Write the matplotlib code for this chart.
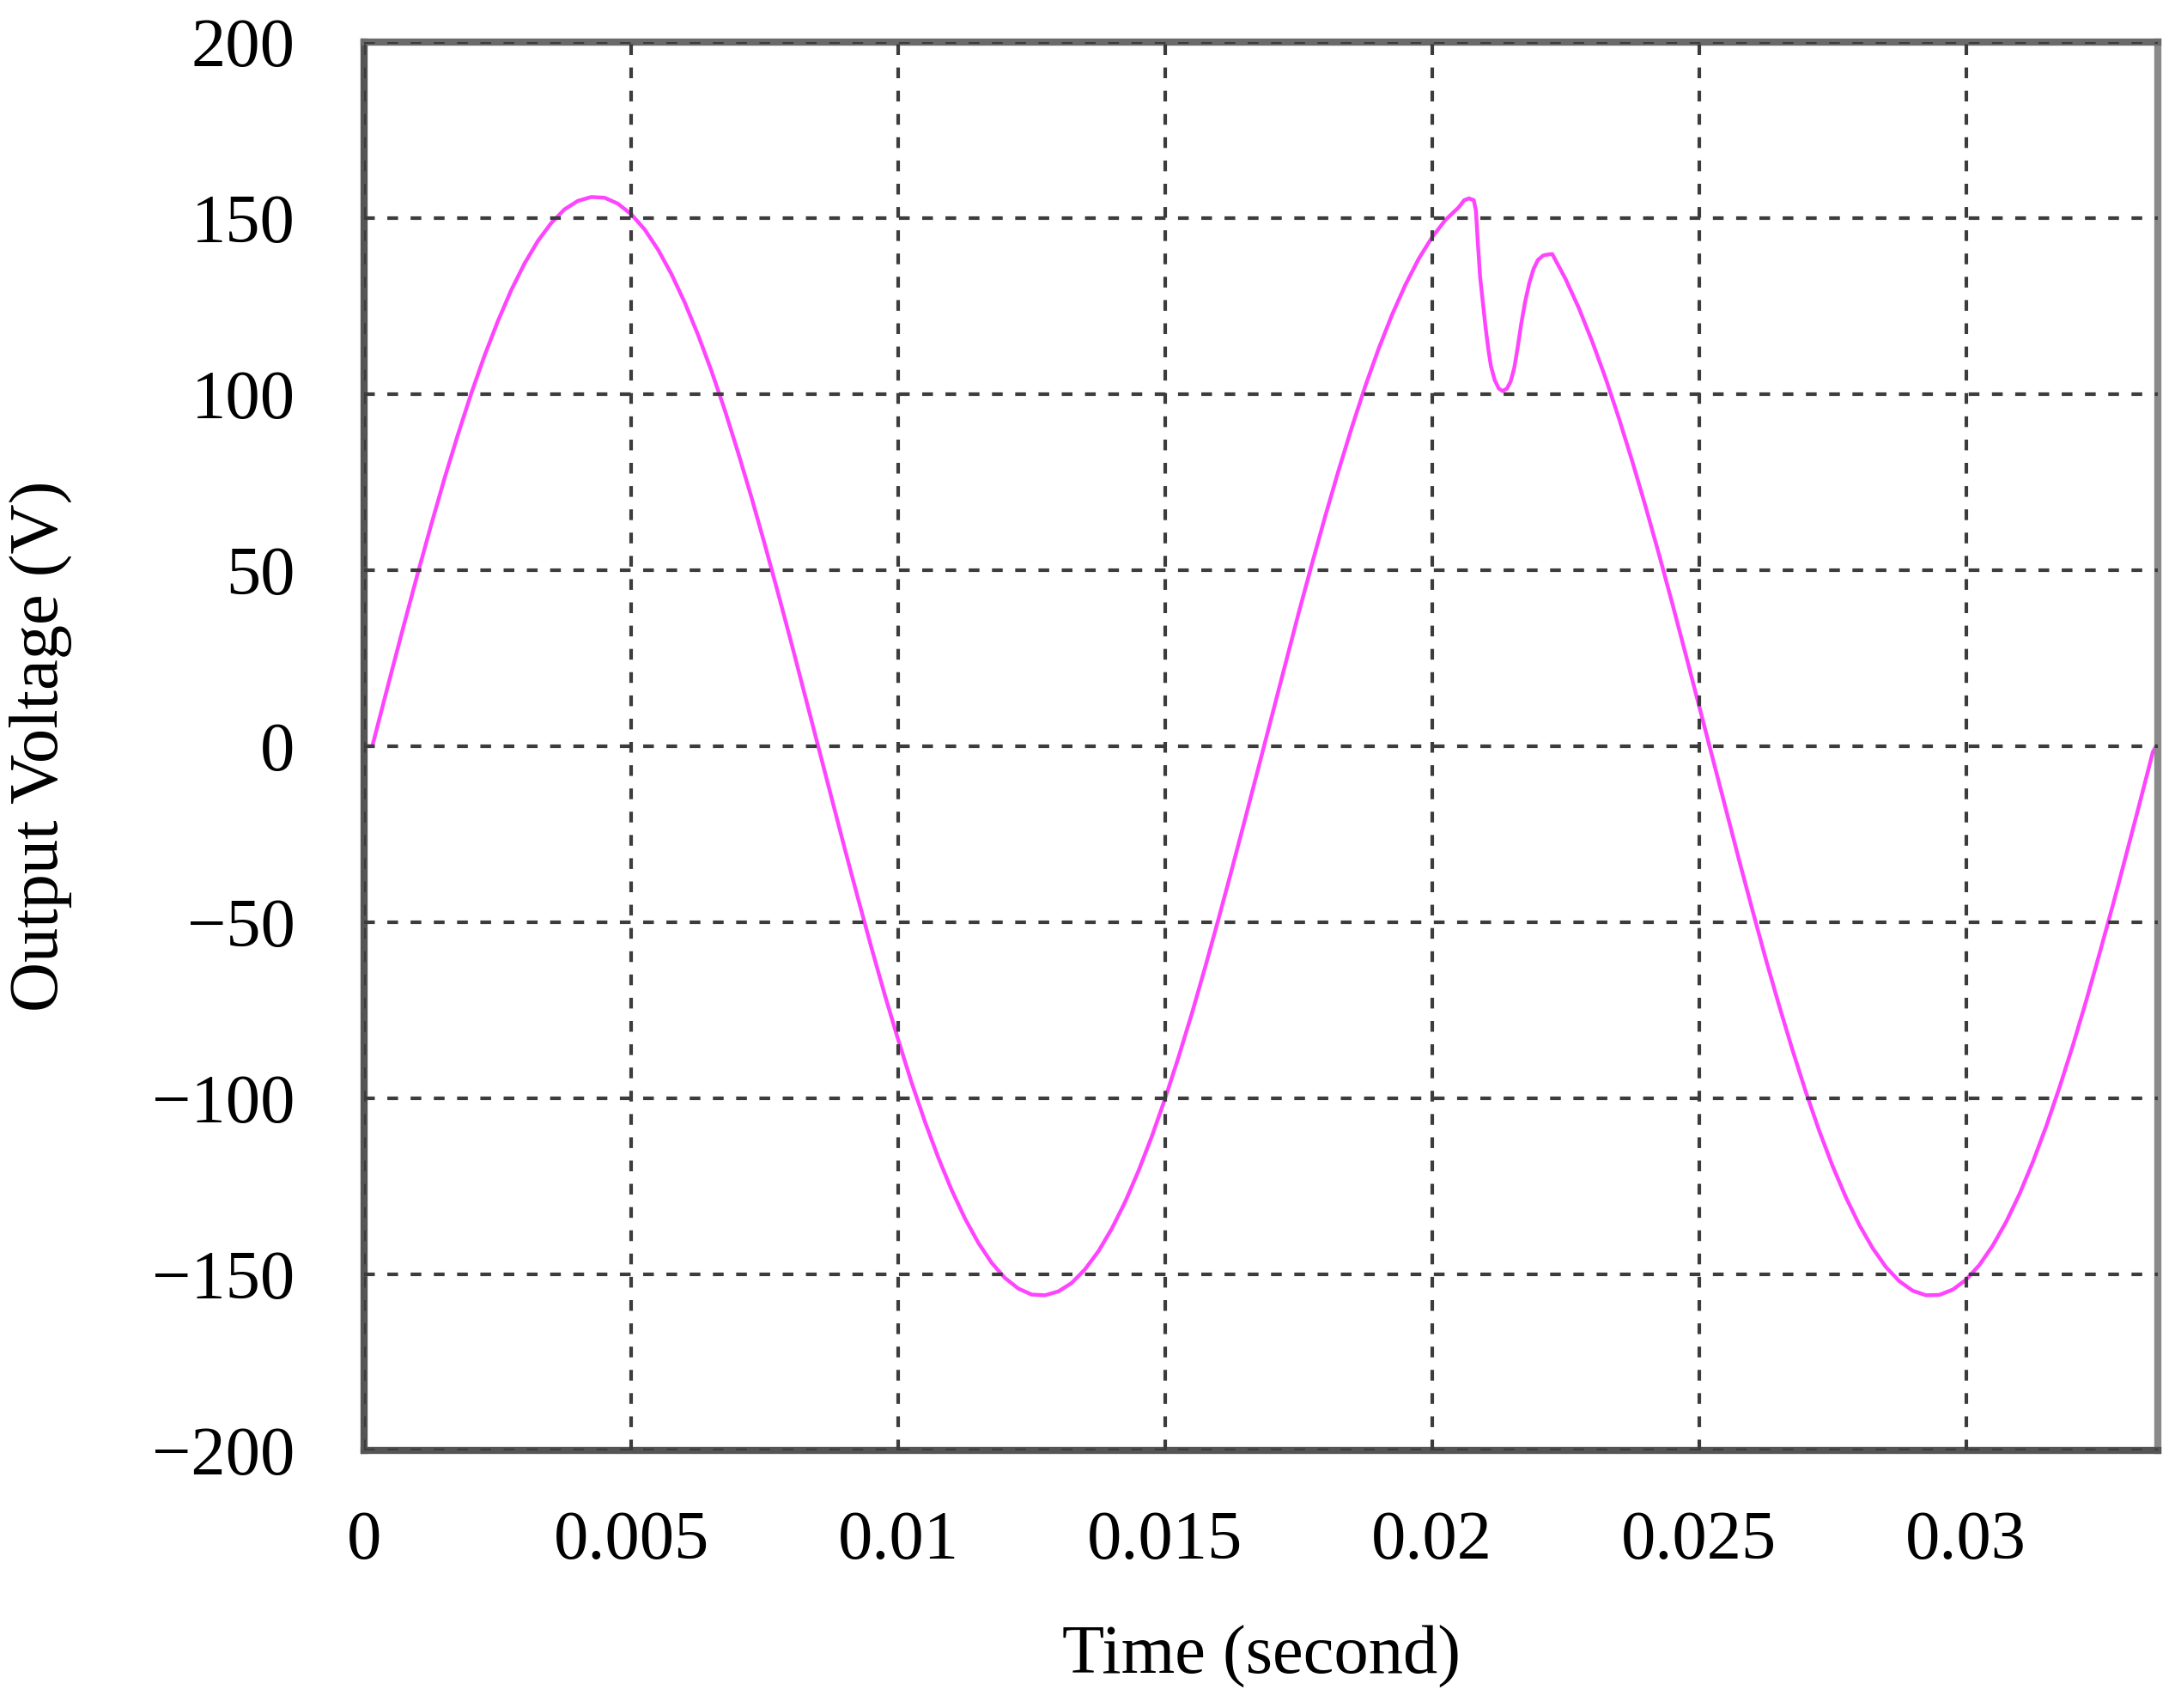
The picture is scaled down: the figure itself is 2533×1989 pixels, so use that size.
#!/usr/bin/env python3
import numpy as np
import matplotlib
matplotlib.use("Agg")
import matplotlib.pyplot as plt

# Time samples (ms) and output voltage (V)
time_ms = [0.0, 0.15, 0.25, 0.5, 0.75, 1.0, 1.25, 1.5, 1.75, 2.0, 2.25, 2.5, 2.75,
           3.0, 3.25, 3.5, 3.75, 4.0, 4.25, 4.5, 4.75, 5.0, 5.25, 5.5, 5.75,
           6.0, 6.25, 6.5, 6.75, 7.0, 7.25, 7.5, 7.75, 8.0, 8.25, 8.5, 8.75,
           9.0, 9.25, 9.5, 9.75, 10.0, 10.25, 10.5, 10.75, 11.0, 11.25, 11.5, 11.75,
           12.0, 12.25, 12.5, 12.75, 13.0, 13.25, 13.5, 13.75, 14.0, 14.25, 14.5, 14.75,
           15.0, 15.25, 15.5, 15.75, 16.0, 16.25, 16.5, 16.75, 17.0, 17.25, 17.5, 17.75,
           18.0, 18.25, 18.5, 18.75, 19.0, 19.25, 19.5, 19.75, 20.0, 20.25, 20.5,
           20.6, 20.69, 20.78, 20.82, 20.86, 20.9, 20.95, 21.0, 21.05, 21.1, 21.17,
           21.25, 21.32, 21.4, 21.47, 21.54, 21.6, 21.67, 21.74, 21.82, 21.9, 21.98,
           22.08, 22.18, 22.25, 22.5, 22.75, 23.0, 23.25, 23.5, 23.75,
           24.0, 24.25, 24.5, 24.75, 25.0, 25.25, 25.5, 25.75, 26.0, 26.25, 26.5, 26.75,
           27.0, 27.25, 27.5, 27.75, 28.0, 28.25, 28.5, 28.75, 29.0, 29.25, 29.5, 29.75,
           30.0, 30.25, 30.5, 30.75, 31.0, 31.25, 31.5, 31.75, 32.0, 32.25, 32.5, 32.75,
           33.0, 33.25, 33.5, 33.6]
voltage = [0.0, 0.0, 5.9, 20.5, 34.9, 49.0, 62.7, 75.9, 88.3, 100.0, 110.8, 120.6, 129.4,
           137.0, 143.4, 148.5, 152.4, 154.8, 155.9, 155.7, 154.0, 151.0, 146.7, 141.0, 134.1,
           126.0, 116.8, 106.6, 95.5, 83.4, 70.7, 57.3, 43.4, 29.2, 14.6, 0.0, -14.6,
           -29.2, -43.4, -57.3, -70.7, -83.4, -95.5, -106.6, -116.8, -126.0, -134.1, -141.0, -146.7,
           -151.0, -154.0, -155.7, -155.9, -154.8, -152.4, -148.5, -143.4, -137.0, -129.4, -120.6, -110.8,
           -100.0, -88.3, -75.9, -62.7, -49.0, -34.9, -20.5, -5.9, 8.8, 23.4, 37.8, 51.8,
           65.4, 78.4, 90.7, 102.3, 112.9, 122.5, 131.0, 138.4, 144.5, 149.4, 153.0,
           155.0, 155.5, 155.0, 152.0, 142.0, 133.0, 126.0, 119.0, 113.0, 108.0, 104.0,
           101.5, 100.8, 101.5, 103.5, 107.5, 113.0, 120.0, 126.0, 131.5, 135.5, 138.0,
           139.3, 139.6, 139.7, 132.6, 124.3, 114.8, 104.4, 93.0, 80.8,
           67.9, 54.4, 40.4, 26.0, 11.4, -3.3, -17.9, -32.4, -46.6, -60.5, -73.7, -86.3,
           -98.2, -109.2, -119.2, -128.1, -135.9, -142.5, -147.9, -151.9, -154.6, -155.9, -155.8, -154.3,
           -151.5, -147.3, -141.8, -135.1, -127.2, -118.1, -108.0, -96.9, -85.0, -72.3, -58.9, -45.1,
           -30.8, -16.3, -1.6, 1.0]

xticks = [0, 0.005, 0.01, 0.015, 0.02, 0.025, 0.03]
xtick_labels = ["0", "0.005", "0.01", "0.015", "0.02", "0.025", "0.03"]
yticks = [-200, -150, -100, -50, 0, 50, 100, 150, 200]

plt.rcParams['font.family'] = ['Liberation Serif', 'DejaVu Serif']

fig = plt.figure(figsize=(25.33, 19.89), dpi=100)
ax = fig.add_axes([0.1675, 0.1507, 0.8248, 0.8249])

t = np.array(time_ms) / 1000.0
ax.plot(t, voltage, color='#ff44ff', linewidth=3.2)

ax.set_xlim(0, 0.0336)
ax.set_ylim(-200, 200)
ax.set_xticks(xticks)
ax.set_xticklabels(xtick_labels)
ax.set_yticks(yticks)
ax.tick_params(axis='both', length=0, labelsize=58, colors='black')
ax.tick_params(axis='x', pad=50)
ax.tick_params(axis='y', pad=58)

# dashed grid drawn over the curve
ax.set_axisbelow(False)
ax.grid(True, color='#3c3c3c', linewidth=3.0, linestyle=(0, (3, 3.5)))

for side, col in [('left', '#555555'), ('bottom', '#555555'),
                  ('top', '#6a6a6a'), ('right', '#8a8a8a')]:
    ax.spines[side].set_color(col)
    ax.spines[side].set_linewidth(6)

ax.set_xlabel('Time (second)', fontsize=58)
ax.set_ylabel('Output Voltage (V)', fontsize=58)
ax.xaxis.set_label_coords(0.5, -0.124)
ax.yaxis.set_label_coords(-0.163, 0.5)

fig.savefig('out.png', dpi=100, facecolor='white')
